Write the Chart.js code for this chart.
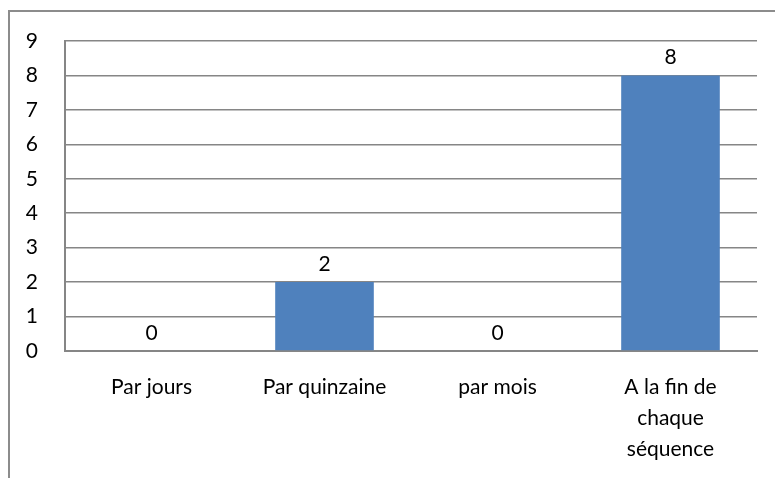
<!DOCTYPE html>
<html>
<head>
<meta charset="utf-8">
<script src="https://cdn.jsdelivr.net/npm/chart.js@4"></script>
<style>
    body { margin: 0; background: #fff; }
    #wrap { position: relative; width: 775px; height: 478px; }
    #frame {
        position: absolute; left: 8px; top: 10px; right: -10px; bottom: -10px;
        border-top: 2px solid #8c8c8c; border-left: 2px solid #8c8c8c;
    }
    #myChart { position: absolute; left: 0; top: 0; }
</style>
</head>
<body>
<div id="wrap">
    <div id="frame"></div>
    <canvas id="myChart" width="775" height="478"></canvas>
</div>
<script>
// Categories and values
const categories = ['Par jours', 'Par quinzaine', 'par mois', ['A la fin de', 'chaque', 'séquence']];
const counts = [0, 2, 0, 8];
const yTicks = [0, 1, 2, 3, 4, 5, 6, 7, 8, 9];

const gridGray = '#868686';
const barBlue = '#4F81BD';
const fontFamily = 'Lato, "Open Sans", sans-serif';

// Draws the value above each bar
const valueLabels = {
    id: 'valueLabels',
    afterDatasetsDraw(chart) {
        const ctx = chart.ctx;
        const meta = chart.getDatasetMeta(0);
        ctx.save();
        ctx.font = '21px ' + fontFamily;
        ctx.fillStyle = '#000';
        ctx.textAlign = 'center';
        ctx.textBaseline = 'middle';
        meta.data.forEach((bar, i) => {
            ctx.fillText(String(counts[i]), bar.x, bar.y - 18);
        });
        ctx.restore();
    }
};

function createChart() {
    const ctx = document.getElementById('myChart');
    new Chart(ctx, {
        type: 'bar',
        data: {
            labels: categories,
            datasets: [{
                data: counts,
                backgroundColor: barBlue,
                borderWidth: 0,
                categoryPercentage: 1,
                barPercentage: 0.57
            }]
        },
        options: {
            responsive: false,
            animation: false,
            layout: { padding: { top: 41, right: 18, left: 0, bottom: 0 } },
            plugins: {
                legend: { display: false },
                tooltip: { enabled: false }
            },
            scales: {
                x: {
                    grid: { display: false, drawTicks: false },
                    border: { display: true, color: gridGray, width: 2 },
                    ticks: {
                        color: '#000',
                        font: { family: fontFamily, size: 21, lineHeight: 1.48 },
                        padding: 21,
                        maxRotation: 0,
                        autoSkip: false
                    },
                    afterFit(scale) { scale.height = 127; }
                },
                y: {
                    min: 0,
                    max: yTicks[yTicks.length - 1],
                    afterBuildTicks(scale) {
                        scale.ticks = yTicks.map(v => ({ value: v }));
                    },
                    grid: { color: gridGray, lineWidth: 1.6, drawTicks: false },
                    border: { display: true, color: gridGray, width: 2 },
                    ticks: {
                        color: '#000',
                        font: { family: fontFamily, size: 21 },
                        padding: 27
                    },
                    afterFit(scale) { scale.width = 65; }
                }
            }
        },
        plugins: [valueLabels]
    });
}

document.addEventListener("DOMContentLoaded", function () {
    createChart();
});
</script>
</body>
</html>
